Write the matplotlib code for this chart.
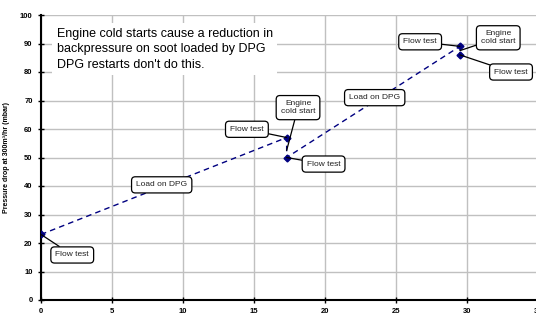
import matplotlib
matplotlib.use("Agg")
import matplotlib.pyplot as plt

plt.rcParams['font.family'] = ['Liberation Sans', 'DejaVu Sans']

# data
soot_x = [0, 17.3, 17.3, 29.5, 29.5]
dp_y = [23, 57, 50, 89, 86]

# annotations: (label, point x, point y, box x, box y)
notes = [
    ("Flow test", 0, 23, 2.2, 15.8),
    ("Load on DPG", None, None, 8.5, 40.4),
    ("Flow test", 17.3, 57, 14.5, 59.9),
    ("Engine\ncold start", 17.3, 52.5, 18.1, 67.5),
    ("Flow test", 17.3, 50, 19.9, 47.7),
    ("Load on DPG", None, None, 23.5, 71.0),
    ("Flow test", 29.5, 89, 26.7, 90.6),
    ("Engine\ncold start", 29.5, 87.5, 32.2, 92.0),
    ("Flow test", 29.5, 86, 33.1, 80.0),
]

fig = plt.figure(figsize=(5.36, 3.22), dpi=100)
ax = fig.add_axes([41/536, 22/322, 497/536, 285/322])

ax.plot(soot_x, dp_y, color='#000080', linestyle=(0, (4, 3)), linewidth=1,
        marker='D', markersize=3.5, markerfacecolor='#000080', zorder=3)

ax.set_xlim(0, 35)
ax.set_ylim(0, 100)
ax.set_xticks(range(0, 36, 5))
ax.set_yticks(range(0, 101, 10))
ax.grid(True, color='#c0c0c0', linewidth=1)
ax.set_axisbelow(True)
for s in ['top', 'right']:
    ax.spines[s].set_visible(False)
for s in ['left', 'bottom']:
    ax.spines[s].set_linewidth(1.5)
ax.tick_params(direction='inout', length=4, width=1, labelsize=5.5, pad=4)
for lab in ax.get_xticklabels() + ax.get_yticklabels():
    lab.set_fontweight('bold')
ax.set_ylabel('Pressure drop at 300m³/hr (mbar)', fontsize=5, fontweight='bold', labelpad=7)
ax.set_xlabel('Soot load (g)', fontsize=6, fontweight='bold', labelpad=8)

box = dict(boxstyle='round,pad=0.55,rounding_size=0.45', fc='white', ec='black', lw=0.9)
for label, px, py, bx, by in notes:
    if px is None:
        ax.text(bx, by, label, fontsize=6, ha='center', va='center', bbox=box,
                color='#222222', zorder=5)
    else:
        ax.annotate(label, xy=(px, py), xytext=(bx, by), fontsize=6,
                    ha='center', va='center', bbox=box, color='#222222',
                    arrowprops=dict(arrowstyle='-', color='black', lw=0.9,
                                    shrinkA=0, shrinkB=0), zorder=5)

ax.text(1.1, 95.6, "Engine cold starts cause a reduction in\n"
        "backpressure on soot loaded by DPG\nDPG restarts don't do this.",
        fontsize=9, ha='left', va='top', linespacing=1.42,
        bbox=dict(fc='white', ec='none', pad=3), zorder=4)

fig.savefig('out.png', dpi=100)
